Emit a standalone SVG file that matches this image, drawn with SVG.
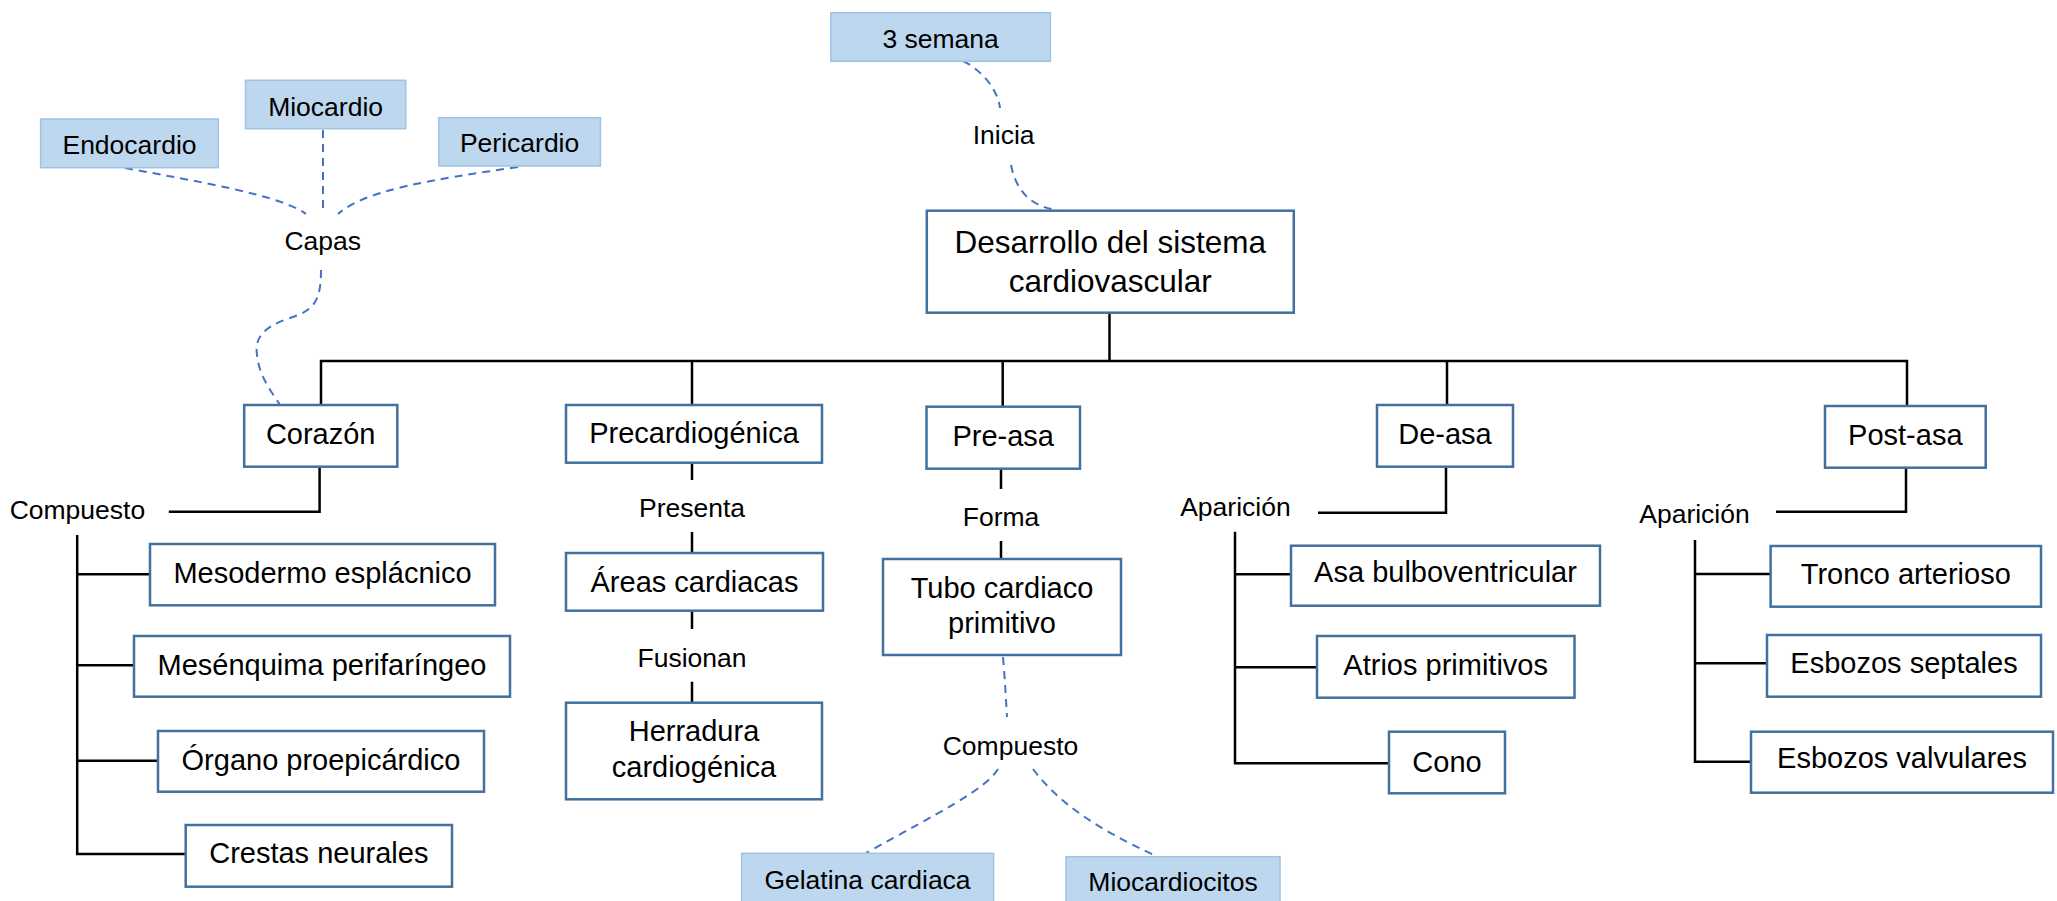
<svg xmlns="http://www.w3.org/2000/svg" width="2057" height="901" viewBox="0 0 2057 901">
<style>
text{font-family:"Liberation Sans",Arial,sans-serif;fill:#000;text-anchor:middle}
.box{fill:#fff;stroke:#41719C;stroke-width:2.5}
.lb{fill:#BDD7EE;stroke:#9DC3E6;stroke-width:1.5}
.t29{font-size:29px}
.t31{font-size:31.5px}
.t26{font-size:26.5px}
.solid{fill:none;stroke:#000;stroke-width:2.5}
.dash{fill:none;stroke:#4472C4;stroke-width:2;stroke-dasharray:8 6}
</style>
<rect width="2057" height="901" fill="#fff"/>
<g id="connectors">
<path class="dash" d="M963,61 C985,72 998,92 1000,108"/>
<path class="dash" d="M1011,165 C1016,190 1030,207 1058,210"/>
<path class="dash" d="M125,168 C200,182 280,195 306,214"/>
<path class="dash" d="M323,130 L323,214"/>
<path class="dash" d="M518,167 C430,180 365,190 338,214"/>
<path class="dash" d="M321,270 C321,300 315,310 290,318 C260,328 255,340 257,355 C259,375 270,390 279.5,404"/>
<path class="dash" d="M1003,657 C1005,680 1006,700 1007,717"/>
<path class="dash" d="M998,769 C985,790 940,812 866,853"/>
<path class="dash" d="M1033,769 C1060,805 1100,830 1156,856"/>
<path class="solid" d="M1109.5,312.7 V361"/>
<path class="solid" d="M321,405 V361 H1907 V406"/>
<path class="solid" d="M692,361 V405"/>
<path class="solid" d="M1002.7,361 V406.7"/>
<path class="solid" d="M1447,361 V405"/>
<path class="solid" d="M319.6,466.7 V511.7 H168.8"/>
<path class="solid" d="M77.2,535 V854 H185.7 M77.2,574.3 H150 M77.2,665.3 H134 M77.2,760.7 H158"/>
<path class="solid" d="M692,462.7 V480 M692,532 V553 M692,611 V629 M692,681.7 V702.7"/>
<path class="solid" d="M1001,468.7 V489 M1001,541 V559"/>
<path class="solid" d="M1446,466.7 V512.7 H1318"/>
<path class="solid" d="M1235,531.7 V763.3 H1389 M1235,574.3 H1291 M1235,667.3 H1317"/>
<path class="solid" d="M1906,467.7 V511.7 H1776"/>
<path class="solid" d="M1695,540 V761.7 H1751 M1695,574 H1770.6 M1695,663.3 H1767"/>
</g>
<g id="labels">
<text class="t26" x="322.8" y="250">Capas</text>
<text class="t26" x="1003.6" y="144">Inicia</text>
<text class="t26" x="77.4" y="519">Compuesto</text>
<text class="t26" x="692" y="516.5">Presenta</text>
<text class="t26" x="692" y="666.5">Fusionan</text>
<text class="t26" x="1001" y="525.5">Forma</text>
<text class="t26" x="1010.5" y="755">Compuesto</text>
<text class="t26" x="1235.4" y="516">Aparición</text>
<text class="t26" x="1694.5" y="523">Aparición</text>
</g>
<g id="n-semana"><rect class="lb" x="830.8" y="12.7" width="219.6" height="48.6"/><text class="t26" x="940.6" y="47.5">3 semana</text></g>
<g id="n-endocardio"><rect class="lb" x="40.6" y="119" width="177.7" height="48.7"/><text class="t26" x="129.5" y="154">Endocardio</text></g>
<g id="n-miocardio"><rect class="lb" x="245.5" y="80.3" width="160.3" height="48.4"/><text class="t26" x="325.6" y="116">Miocardio</text></g>
<g id="n-pericardio"><rect class="lb" x="438.8" y="117.7" width="161.6" height="48.3"/><text class="t26" x="519.6" y="152">Pericardio</text></g>
<g id="n-desarrollo"><rect class="box" x="926.8" y="210.7" width="367" height="102"/><text class="t31" x="1110.3" y="253">Desarrollo del sistema</text><text class="t31" x="1110.3" y="292">cardiovascular</text></g>
<g id="n-corazon"><rect class="box" x="244.2" y="405" width="153.1" height="61.7"/><text class="t29" x="320.7" y="444">Corazón</text></g>
<g id="n-precardiogenica"><rect class="box" x="566" y="405" width="256" height="57.7"/><text class="t29" x="694" y="443.3">Precardiogénica</text></g>
<g id="n-preasa"><rect class="box" x="926.5" y="406.7" width="153.5" height="62"/><text class="t29" x="1003.2" y="445.7">Pre-asa</text></g>
<g id="n-deasa"><rect class="box" x="1377" y="405" width="136" height="61.7"/><text class="t29" x="1445" y="444">De-asa</text></g>
<g id="n-postasa"><rect class="box" x="1825" y="406" width="160.7" height="61.7"/><text class="t29" x="1905.3" y="445">Post-asa</text></g>
<g id="n-mesodermo"><rect class="box" x="150" y="544" width="345" height="61.3"/><text class="t29" x="322.5" y="582.7">Mesodermo esplácnico</text></g>
<g id="n-mesenquima"><rect class="box" x="134" y="636" width="376" height="60.7"/><text class="t29" x="322" y="675">Mesénquima perifaríngeo</text></g>
<g id="n-organo"><rect class="box" x="158" y="731" width="326" height="60.7"/><text class="t29" x="321" y="770">Órgano proepicárdico</text></g>
<g id="n-crestas"><rect class="box" x="185.7" y="825" width="266.3" height="61.7"/><text class="t29" x="318.8" y="863.3">Crestas neurales</text></g>
<g id="n-areas"><rect class="box" x="566" y="553" width="257" height="57.7"/><text class="t29" x="694.5" y="591.7">Áreas cardiacas</text></g>
<g id="n-herradura"><rect class="box" x="566" y="702.7" width="256" height="96.6"/><text class="t29" x="694" y="741">Herradura</text><text class="t29" x="694" y="777.3">cardiogénica</text></g>
<g id="n-tubo"><rect class="box" x="883" y="559" width="238" height="96"/><text class="t29" x="1002" y="598.3">Tubo cardiaco</text><text class="t29" x="1002" y="633.3">primitivo</text></g>
<g id="n-gelatina"><rect class="lb" x="741.6" y="853.3" width="252" height="50"/><text class="t26" x="867.5" y="889">Gelatina cardiaca</text></g>
<g id="n-miocardiocitos"><rect class="lb" x="1066" y="856.7" width="214" height="50"/><text class="t26" x="1173" y="891">Miocardiocitos</text></g>
<g id="n-asa"><rect class="box" x="1291" y="545.7" width="309" height="60"/><text class="t29" x="1445.5" y="581.7">Asa bulboventricular</text></g>
<g id="n-atrios"><rect class="box" x="1317" y="636" width="257.5" height="61.7"/><text class="t29" x="1445.7" y="675">Atrios primitivos</text></g>
<g id="n-cono"><rect class="box" x="1389" y="731.7" width="116" height="61.6"/><text class="t29" x="1447" y="771.7">Cono</text></g>
<g id="n-tronco"><rect class="box" x="1770.6" y="546" width="270.4" height="60.7"/><text class="t29" x="1905.8" y="584">Tronco arterioso</text></g>
<g id="n-septales"><rect class="box" x="1767" y="635" width="274" height="61.7"/><text class="t29" x="1904" y="673.3">Esbozos septales</text></g>
<g id="n-valvulares"><rect class="box" x="1751" y="731.7" width="302" height="61"/><text class="t29" x="1902" y="768.3">Esbozos valvulares</text></g>
</svg>
